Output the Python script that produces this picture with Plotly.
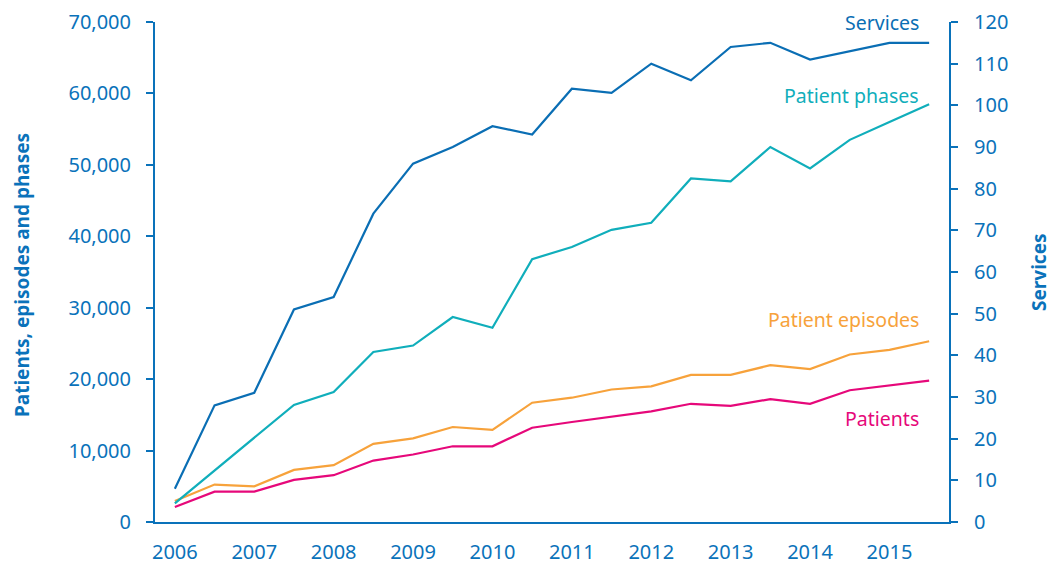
import plotly.graph_objects as go

periods = [2006 + 0.5 * i for i in range(20)]
services = [8, 28, 31, 51, 54, 74, 86, 90, 95, 93, 104, 103, 110, 106, 114, 115, 111, 113, 115, 115]
patient_phases = [2600, 7200, 11800, 16400, 18200, 23800, 24700, 28700, 27200, 36800, 38500, 40900, 41900, 48100, 47700, 52500, 49500, 53500, 56000, 58500]
patient_episodes = [2950, 5240, 5000, 7300, 7950, 10950, 11700, 13300, 12900, 16700, 17400, 18550, 19000, 20600, 20600, 21950, 21400, 23450, 24100, 25300]
patients = [2100, 4250, 4250, 5900, 6550, 8600, 9450, 10600, 10600, 13200, 14000, 14750, 15500, 16550, 16250, 17200, 16550, 18450, 19150, 19800]
year_ticks = list(range(2006, 2016))
left_ticks = list(range(0, 70001, 10000))
right_ticks = list(range(0, 121, 10))

BLUE = "#0A72BA"
C_SERV = "#0A6EB4"
C_PHASE = "#10AEBB"
C_EPI = "#F7A23B"
C_PAT = "#E6087A"
FONT = "Noto Sans"

L, R, T, B = 155, 949, 22, 522
W = float(R - L)
H = float(B - T)

fig = go.Figure()
fig.add_trace(go.Scatter(x=periods, y=patients, mode="lines", line=dict(color=C_PAT, width=2.2), name="Patients"))
fig.add_trace(go.Scatter(x=periods, y=patient_episodes, mode="lines", line=dict(color=C_EPI, width=2.2), name="Patient episodes"))
fig.add_trace(go.Scatter(x=periods, y=patient_phases, mode="lines", line=dict(color=C_PHASE, width=2.2), name="Patient phases"))
fig.add_trace(go.Scatter(x=periods, y=services, mode="lines", line=dict(color=C_SERV, width=2.2), name="Services", yaxis="y2"))

fig.update_layout(
    width=1056, height=563,
    margin=dict(l=L, r=1056 - R, t=T, b=563 - B, autoexpand=False),
    plot_bgcolor="white", paper_bgcolor="white",
    showlegend=False,
    font=dict(family=FONT, color=BLUE, size=20),
    xaxis=dict(range=[2005.75, 2015.75], tickvals=year_ticks, ticktext=[str(y) for y in year_ticks],
               showgrid=False, zeroline=False, showline=True, linecolor=BLUE, linewidth=2,
               ticks="", tickfont=dict(size=20, color=BLUE), ticklabelstandoff=11, automargin=False),
    yaxis=dict(range=[0, 70000], tickvals=left_ticks, tickformat=",d",
               showgrid=False, zeroline=False, showline=True, linecolor=BLUE, linewidth=2,
               ticks="outside", ticklen=7, tickwidth=2, tickcolor=BLUE,
               tickfont=dict(size=20, color=BLUE), ticklabelstandoff=11, automargin=False),
    yaxis2=dict(range=[0, 120], tickvals=right_ticks, overlaying="y", side="right",
                showgrid=False, zeroline=False, showline=True, linecolor=BLUE, linewidth=2,
                ticks="outside", ticklen=7, tickwidth=2, tickcolor=BLUE,
                tickfont=dict(size=20, color=BLUE), ticklabelstandoff=12, automargin=False),
)

def px(xp):
    return (xp - L) / W
def py(yp):
    return (B - yp) / H

labels = [("Services", C_SERV, 22), ("Patient phases", C_PHASE, 95),
          ("Patient episodes", C_EPI, 319), ("Patients", C_PAT, 418)]
for text, col, yp in labels:
    fig.add_annotation(text=text, xref="paper", yref="paper", x=px(921), y=py(yp),
                       xanchor="right", yanchor="middle", showarrow=False,
                       font=dict(family=FONT, size=19.5, color=col))

fig.add_annotation(text="<b>Patients, episodes and phases</b>", xref="paper", yref="paper",
                   x=px(22), y=py(275), textangle=-90, showarrow=False,
                   xanchor="center", yanchor="middle", font=dict(family=FONT, size=19, color=BLUE))
fig.add_annotation(text="<b>Services</b>", xref="paper", yref="paper",
                   x=px(1039), y=py(272), textangle=-90, showarrow=False,
                   xanchor="center", yanchor="middle", font=dict(family=FONT, size=19, color=BLUE))

fig.write_html("out.html", config={"displayModeBar": False},
               post_script="document.body.style.margin='0px';document.body.style.overflow='hidden';")
